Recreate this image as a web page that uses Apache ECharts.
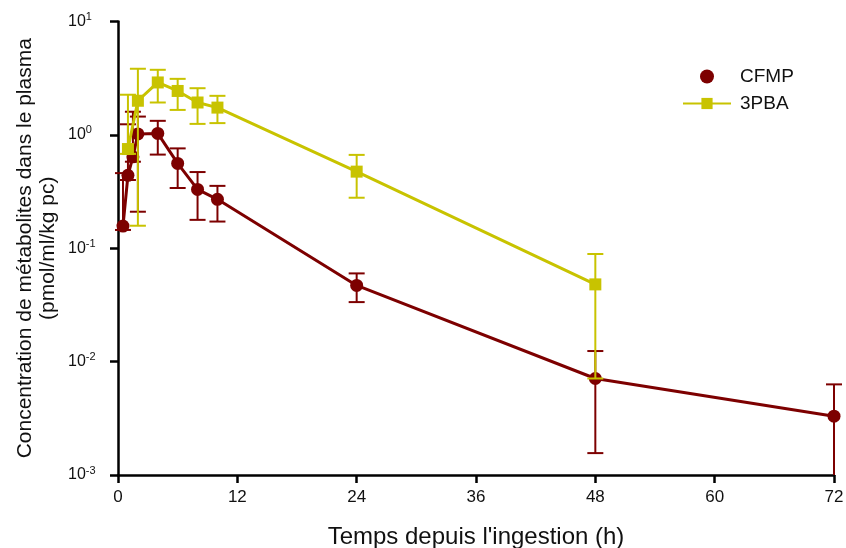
<!DOCTYPE html>
<html>
<head>
<meta charset="utf-8">
<script src="https://cdn.jsdelivr.net/npm/echarts@6/dist/echarts.min.js"></script>
<style>
  html, body { margin: 0; padding: 0; background: #fff; }
  #chart { width: 846px; height: 548px; }
</style>
</head>
<body>
<div id="chart"></div>
<script>
// Plasma concentrations of metabolites (mean with error range) after ingestion
const xTicks = [0, 12, 24, 36, 48, 60, 72];

const cfmpTime = [0.5, 1, 1.5, 2, 4, 6, 8, 10, 24, 48, 72];
const cfmpMean = [0.157, 0.44, 0.64, 1.02, 1.03, 0.56, 0.33, 0.27, 0.047, 0.0071, 0.0033];
const cfmpLow  = [0.145, 0.40, 0.58, 0.21, 0.67, 0.34, 0.178, 0.172, 0.0335, 0.00156, 0.0005];
const cfmpHigh = [0.46, 1.24, 1.6, 1.45, 1.33, 0.76, 0.47, 0.355, 0.060, 0.0124, 0.0063];

const pbaTime = [1, 2, 4, 6, 8, 10, 24, 48];
const pbaMean = [0.75, 2.0, 2.9, 2.44, 1.93, 1.74, 0.474, 0.048];
const pbaLow  = [0.68, 0.158, 1.93, 1.66, 1.25, 1.27, 0.279, 0.0071];
const pbaHigh = [2.26, 3.83, 3.75, 3.12, 2.58, 2.21, 0.666, 0.089];

const RED = '#7d0000';
const YEL = '#c8c300';
const FONT = 'Liberation Sans, Arial, sans-serif';

function points(t, v) { return t.map((x, i) => [x, v[i]]); }
function bars(t, lo, hi) { return t.map((x, i) => [x, lo[i], hi[i]]); }

// Vertical error bar with caps; a bar running below the axis is cut at the axis without a cap
function errorBar(color) {
  return function (params, api) {
    const x = api.value(0);
    const pLo = api.coord([x, api.value(1)]);
    const pHi = api.coord([x, api.value(2)]);
    const bottom = params.coordSys.y + params.coordSys.height;
    const hw = 8;
    const style = { stroke: color, lineWidth: 2 };
    const clipped = pLo[1] > bottom;
    const yLo = clipped ? bottom : pLo[1];
    const children = [
      { type: 'line', shape: { x1: pLo[0], y1: yLo, x2: pHi[0], y2: pHi[1] }, style },
      { type: 'line', shape: { x1: pHi[0] - hw, y1: pHi[1], x2: pHi[0] + hw, y2: pHi[1] }, style }
    ];
    if (!clipped) {
      children.push({ type: 'line', shape: { x1: pLo[0] - hw, y1: yLo, x2: pLo[0] + hw, y2: yLo }, style });
    }
    return { type: 'group', children };
  };
}

const chart = echarts.init(document.getElementById('chart'), null, { renderer: 'canvas' });

chart.setOption({
  animation: false,
  backgroundColor: '#fff',
  textStyle: { fontFamily: FONT },
  grid: { left: 118, right: 12, top: 21.5, bottom: 73, containLabel: false, outerBoundsMode: 'none' },
  legend: {
    orient: 'vertical',
    left: 677,
    top: 62,
    itemWidth: 48,
    itemHeight: 14,
    itemGap: 8,
    textStyle: { fontSize: 19, color: '#111', fontFamily: FONT, padding: [0, 0, 0, 4] },
    data: [{ name: 'CFMP', icon: 'circle' }, { name: '3PBA' }]
  },
  xAxis: {
    type: 'value',
    min: xTicks[0],
    max: xTicks[xTicks.length - 1],
    interval: 12,
    name: "Temps depuis l'ingestion (h)",
    nameLocation: 'middle',
    nameGap: 50,
    nameMoveOverlap: false,
    nameTextStyle: { fontSize: 24, color: '#111', fontFamily: FONT },
    axisLine: { lineStyle: { color: '#000', width: 2.5 } },
    axisTick: { length: 8, lineStyle: { color: '#000', width: 2.5 } },
    axisLabel: { fontSize: 17, color: '#111', margin: 14 },
    splitLine: { show: false }
  },
  yAxis: {
    type: 'log',
    logBase: 10,
    min: 0.001,
    max: 10,
    name: 'Concentration de métabolites dans le plasma\n(pmol/ml/kg pc)',
    nameLocation: 'middle',
    nameRotate: 90,
    nameGap: 58,
    nameMoveOverlap: false,
    nameTextStyle: { fontSize: 21, color: '#111', fontFamily: FONT, lineHeight: 23 },
    axisLine: { lineStyle: { color: '#000', width: 2.5 } },
    axisTick: { length: 8, lineStyle: { color: '#000', width: 2.5 } },
    axisLabel: {
      margin: 50,
      align: 'left',
      color: '#111',
      formatter: function (v) {
        const e = Math.round(Math.log10(v));
        return '{b|10}{s|' + e + '}';
      },
      rich: {
        b: { fontSize: 16, color: '#111', fontFamily: FONT },
        s: { fontSize: 11, color: '#111', fontFamily: FONT, padding: [0, 0, 9, 0] }
      }
    },
    splitLine: { show: false },
    minorTick: { show: false }
  },
  series: [
    {
      name: 'CFMP-err',
      type: 'custom',
      clip: false,
      renderItem: errorBar(RED),
      encode: { x: 0, y: [1, 2] },
      data: bars(cfmpTime, cfmpLow, cfmpHigh),
      z: 2
    },
    {
      name: 'CFMP',
      type: 'line',
      data: points(cfmpTime, cfmpMean),
      symbol: 'circle',
      symbolSize: 13,
      clip: false,
      itemStyle: { color: RED },
      lineStyle: { color: RED, width: 3 },
      z: 3
    },
    {
      name: '3PBA',
      type: 'line',
      data: points(pbaTime, pbaMean),
      symbol: 'rect',
      symbolSize: 12,
      itemStyle: { color: YEL },
      lineStyle: { color: YEL, width: 3 },
      z: 4
    },
    {
      name: '3PBA-err',
      type: 'custom',
      clip: false,
      renderItem: errorBar(YEL),
      encode: { x: 0, y: [1, 2] },
      data: bars(pbaTime, pbaLow, pbaHigh),
      z: 5
    }
  ]
});
</script>
</body>
</html>
